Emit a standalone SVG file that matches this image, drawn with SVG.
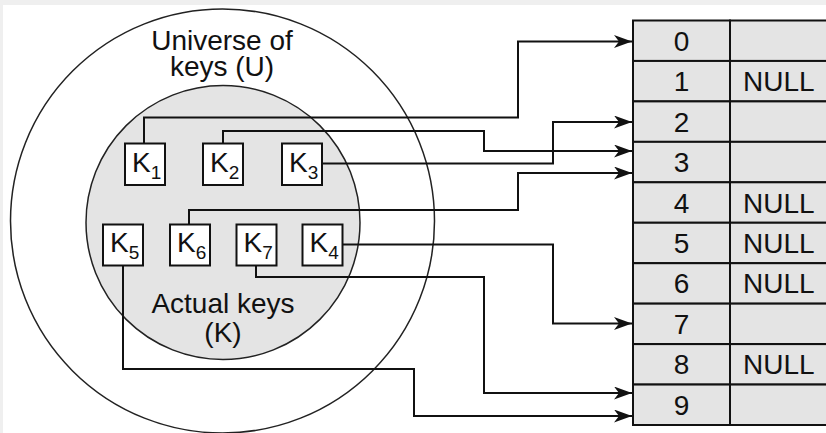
<svg xmlns="http://www.w3.org/2000/svg" width="826" height="433" viewBox="0 0 826 433">
<style>
  text { font-family: "Liberation Sans", Arial, sans-serif; fill: #111; }
  .lbl { font-size: 28px; text-anchor: middle; }
  .k { font-size: 28px; }
  .sub { font-size: 19px; }
  .key rect { fill: #fff; stroke: #111; stroke-width: 2; }
  .cell { fill: #e4e4e4; stroke: #111; stroke-width: 2; }
  .idx { font-size: 28px; text-anchor: middle; }
  .val { font-size: 28px; }
  .conn path { fill: none; stroke: #111; stroke-width: 2; marker-end: url(#arr); }
</style>
<defs>
  <marker id="arr" viewBox="0 0 18 13" refX="18" refY="6.5" markerWidth="18" markerHeight="13" markerUnits="userSpaceOnUse" orient="auto">
    <path d="M0,0 L18,6.5 L0,13 L5,6.5 z" fill="#111"/>
  </marker>
</defs>
<rect x="0" y="0" width="826" height="433" fill="#efefef"/>
<rect x="3" y="5" width="823" height="428" fill="#fff"/>

<g id="universe">
  <circle cx="222.5" cy="221" r="212" fill="none" stroke="#222" stroke-width="1.5"/>
  <text class="lbl" x="222" y="50">Universe of</text>
  <text class="lbl" x="222" y="76">keys (U)</text>
</g>
<g id="actual">
  <circle cx="223" cy="222.5" r="137" fill="#e4e4e4" stroke="#222" stroke-width="1.5"/>
  <text class="lbl" x="223" y="313">Actual keys</text>
  <text class="lbl" x="223" y="342">(K)</text>
</g>

<g class="conn" id="connectors">
  <path d="M144,143.5 V117.5 H518 V41.5 H632"/>
  <path d="M223,143.5 V131 H484 V151 H632"/>
  <path d="M322,163.5 H553 V122 H632"/>
  <path d="M189,224.5 V210 H518 V173 H632"/>
  <path d="M342,244.5 H553 V323.5 H632"/>
  <path d="M256,265.5 V277 H484 V393 H632"/>
  <path d="M123,265.5 V369 H414 V416 H632"/>
</g>

<g id="k1" class="key"><rect x="125" y="143.5" width="40" height="41.5"/><text class="k" x="132" y="172">K<tspan class="sub" dy="7">1</tspan></text></g>
<g id="k2" class="key"><rect x="203" y="143.5" width="40" height="41.5"/><text class="k" x="210" y="172">K<tspan class="sub" dy="7">2</tspan></text></g>
<g id="k3" class="key"><rect x="282" y="143.5" width="40" height="41.5"/><text class="k" x="289" y="172">K<tspan class="sub" dy="7">3</tspan></text></g>
<g id="k5" class="key"><rect x="103" y="224.5" width="40" height="41"/><text class="k" x="110" y="252">K<tspan class="sub" dy="7">5</tspan></text></g>
<g id="k6" class="key"><rect x="170" y="224.5" width="40" height="41"/><text class="k" x="177" y="252">K<tspan class="sub" dy="7">6</tspan></text></g>
<g id="k7" class="key"><rect x="236.5" y="224.5" width="40" height="41"/><text class="k" x="243.5" y="252">K<tspan class="sub" dy="7">7</tspan></text></g>
<g id="k4" class="key"><rect x="302.5" y="224.5" width="40" height="41"/><text class="k" x="309.5" y="252">K<tspan class="sub" dy="7">4</tspan></text></g>

<g id="table">
  <g id="row0"><rect class="cell" x="633" y="20.5" width="97" height="40.45"/><rect class="cell" x="730" y="20.5" width="100" height="40.45"/><text class="idx" x="681.5" y="51">0</text></g>
  <g id="row1"><rect class="cell" x="633" y="60.95" width="97" height="40.45"/><rect class="cell" x="730" y="60.95" width="100" height="40.45"/><text class="idx" x="681.5" y="91.2">1</text><text class="val" x="743" y="91.2">NULL</text></g>
  <g id="row2"><rect class="cell" x="633" y="101.4" width="97" height="40.45"/><rect class="cell" x="730" y="101.4" width="100" height="40.45"/><text class="idx" x="681.5" y="131.6">2</text></g>
  <g id="row3"><rect class="cell" x="633" y="141.85" width="97" height="40.45"/><rect class="cell" x="730" y="141.85" width="100" height="40.45"/><text class="idx" x="681.5" y="172.1">3</text></g>
  <g id="row4"><rect class="cell" x="633" y="182.3" width="97" height="40.45"/><rect class="cell" x="730" y="182.3" width="100" height="40.45"/><text class="idx" x="681.5" y="212.5">4</text><text class="val" x="743" y="212.5">NULL</text></g>
  <g id="row5"><rect class="cell" x="633" y="222.75" width="97" height="40.45"/><rect class="cell" x="730" y="222.75" width="100" height="40.45"/><text class="idx" x="681.5" y="253">5</text><text class="val" x="743" y="253">NULL</text></g>
  <g id="row6"><rect class="cell" x="633" y="263.2" width="97" height="40.45"/><rect class="cell" x="730" y="263.2" width="100" height="40.45"/><text class="idx" x="681.5" y="293.4">6</text><text class="val" x="743" y="293.4">NULL</text></g>
  <g id="row7"><rect class="cell" x="633" y="303.65" width="97" height="40.45"/><rect class="cell" x="730" y="303.65" width="100" height="40.45"/><text class="idx" x="681.5" y="333.9">7</text></g>
  <g id="row8"><rect class="cell" x="633" y="344.1" width="97" height="40.45"/><rect class="cell" x="730" y="344.1" width="100" height="40.45"/><text class="idx" x="681.5" y="374.3">8</text><text class="val" x="743" y="374.3">NULL</text></g>
  <g id="row9"><rect class="cell" x="633" y="384.55" width="97" height="40.45"/><rect class="cell" x="730" y="384.55" width="100" height="40.45"/><text class="idx" x="681.5" y="414.8">9</text></g>
</g>
</svg>
